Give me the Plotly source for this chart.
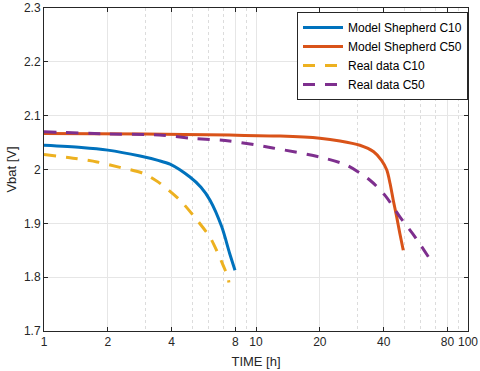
import plotly.graph_objects as go

# Values (time in hours, voltage in V)
t_model_c10 = [1.0, 1.5, 2.0, 2.84, 3.45, 3.93, 4.88, 5.5, 6.07, 6.9, 7.5, 7.96]
v_model_c10 = [2.045, 2.041, 2.036, 2.025, 2.017, 2.010, 1.986, 1.967, 1.943, 1.893, 1.845, 1.813]

t_model_c50 = [1.0, 3.0, 7.5, 13.0, 20.0, 24.9, 30.9, 35.9, 39.1, 41.4, 42.9, 44.4, 46.1, 47.7, 49.5]
v_model_c50 = [2.067, 2.066, 2.064, 2.062, 2.058, 2.053, 2.045, 2.033, 2.017, 1.999, 1.974, 1.943, 1.912, 1.881, 1.850]

t_real_c10 = [1.0, 1.37, 1.78, 2.28, 2.93, 3.45, 4.38, 5.27, 6.07, 6.6, 7.0, 7.37, 7.45]
v_real_c10 = [2.028, 2.021, 2.014, 2.004, 1.993, 1.977, 1.943, 1.906, 1.874, 1.845, 1.822, 1.800, 1.790]

t_real_c50 = [1.0, 2.0, 3.5, 5.0, 7.5, 12.0, 20.0, 26.8, 34.5, 40.6, 47.7, 56.2, 65.0]
v_real_c50 = [2.070, 2.066, 2.064, 2.058, 2.053, 2.040, 2.023, 2.008, 1.980, 1.952, 1.912, 1.875, 1.838]

x_ticks = [1, 2, 4, 8, 10, 20, 40, 80, 100]
x_minor = [3, 5, 6, 7, 9, 30, 50, 60, 70, 90]
y_ticks = [1.7, 1.8, 1.9, 2.0, 2.1, 2.2, 2.3]
y_labels = ["1.7", "1.8", "1.9", "2", "2.1", "2.2", "2.3"]

dash = "12px,10px"
fig = go.Figure()
fig.add_trace(go.Scatter(x=t_model_c10, y=v_model_c10, mode="lines", name="Model Shepherd C10",
                         line=dict(color="#0072BD", width=3, shape="spline", smoothing=0.8)))
fig.add_trace(go.Scatter(x=t_model_c50, y=v_model_c50, mode="lines", name="Model Shepherd C50",
                         line=dict(color="#D95319", width=3, shape="spline", smoothing=0.8)))
fig.add_trace(go.Scatter(x=t_real_c10, y=v_real_c10, mode="lines", name="Real data C10",
                         line=dict(color="#EDB120", width=3, dash=dash, shape="spline", smoothing=0.8)))
fig.add_trace(go.Scatter(x=t_real_c50, y=v_real_c50, mode="lines", name="Real data C50",
                         line=dict(color="#7E2F8E", width=3, dash=dash, shape="spline", smoothing=0.8)))

axis_font = dict(family="Liberation Sans, Arial, sans-serif", size=12, color="#262626")

fig.update_layout(
    width=480,
    height=371,
    margin=dict(l=44, r=12, t=8, b=40),
    paper_bgcolor="white",
    plot_bgcolor="white",
    font=axis_font,
    showlegend=True,
    legend=dict(
        x=1, xanchor="right", y=0.988, yanchor="top",
        bgcolor="white", bordercolor="#262626", borderwidth=1,
        font=dict(size=12, color="black"),
        tracegroupgap=0, itemwidth=40,
    ),
    xaxis=dict(
        type="log",
        range=[0, 2],
        tickvals=x_ticks,
        ticktext=[str(v) for v in x_ticks],
        ticks="inside", ticklen=4, tickcolor="#262626",
        showline=True, linecolor="#262626", linewidth=1, mirror="ticks",
        showgrid=True, gridcolor="#e6e6e6", gridwidth=1,
        minor=dict(tickvals=x_minor, showgrid=True, gridcolor="#dcdcdc", griddash="dot", ticks=""),
        zeroline=False,
        automargin=False,
        title=dict(text="TIME [h]", standoff=8, font=dict(size=13)),
    ),
    yaxis=dict(
        range=[1.7, 2.3],
        tickvals=y_ticks,
        ticktext=y_labels,
        ticks="inside", ticklen=4, tickcolor="#262626",
        showline=True, linecolor="#262626", linewidth=1, mirror="ticks",
        showgrid=True, gridcolor="#e6e6e6", gridwidth=1,
        zeroline=False,
        automargin=False,
        title=dict(text="Vbat [V]", standoff=4, font=dict(size=13)),
    ),
)

# drop the browser's default 8px body margin so the figure sits at the page corner
fig.write_html("out.html", config={"displayModeBar": False},
               post_script="document.body.style.margin='0';")
